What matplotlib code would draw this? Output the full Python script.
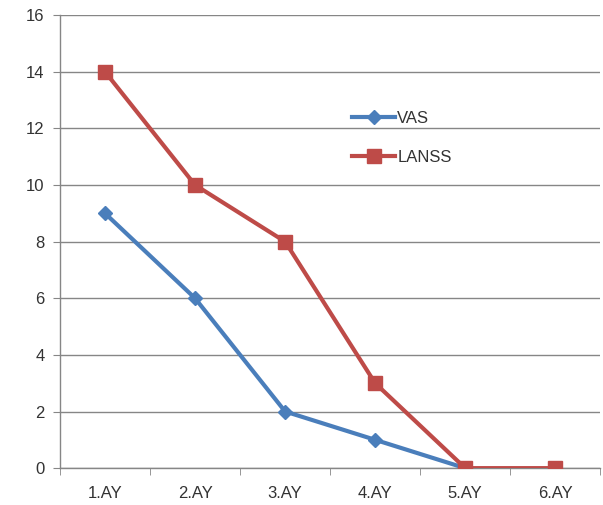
import numpy as np
from matplotlib import pyplot as plt
from matplotlib.ticker import FixedLocator

categories = ['1.AY', '2.AY', '3.AY', '4.AY', '5.AY', '6.AY']
vas = [9, 6, 2, 1, 0, np.nan]
lanss = [14, 10, 8, 3, 0, 0]

plt.rcParams['font.family'] = ['Liberation Sans', 'DejaVu Sans']

fig = plt.figure(figsize=(6.03, 5.05), dpi=100)
ax = fig.add_axes([0.0995, 0.073, 0.896, 0.897])

x = np.arange(len(categories))
ax.plot(x, vas, color='#4A7EBB', lw=3, marker='D', ms=7.5, label='VAS', zorder=3)
ax.plot(x, lanss, color='#BE4B48', lw=3, marker='s', ms=10.5, label='LANSS', zorder=3)

ax.set_xlim(-0.5, len(categories) - 0.5)
ax.set_ylim(0, 16)
ax.set_yticks(range(0, 17, 2))
ax.set_xticks(x)
ax.set_xticklabels(categories, fontsize=12, color='#333333')
ax.xaxis.set_minor_locator(FixedLocator(np.arange(-0.5, len(categories), 1)))
ax.tick_params(axis='x', which='major', length=0, pad=13)
ax.tick_params(axis='x', which='minor', length=5, color='#868686', direction='out')
ax.tick_params(axis='y', length=5, color='#868686', labelsize=12, labelcolor='#333333', pad=6)

ax.grid(axis='y', color='#868686', lw=1)
ax.set_axisbelow(True)
for s in ['top', 'right']:
    ax.spines[s].set_visible(False)
for s in ['left', 'bottom']:
    ax.spines[s].set_color('#868686')
    ax.spines[s].set_linewidth(1)

leg = ax.legend(loc='center left', bbox_to_anchor=(0.513, 0.729), frameon=False,
                fontsize=12, handlelength=2.6, handletextpad=0.1, labelspacing=1.4)
for t in leg.get_texts():
    t.set_color('#333333')

fig.savefig('out.png', dpi=100)
